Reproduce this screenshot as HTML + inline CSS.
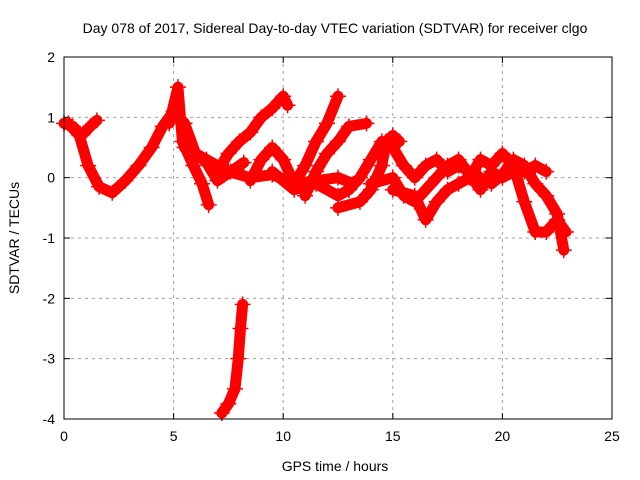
<!DOCTYPE html>
<html><head><meta charset="utf-8"><style>
body{margin:0;background:#fff}
svg{display:block;font-family:"Liberation Sans",sans-serif}
</style></head><body>
<svg id="c" width="640" height="480">
<rect x="0" y="0" width="640" height="480" fill="#fff"/>
<text x="335" y="33" font-size="14" text-anchor="middle">Day 078 of 2017, Sidereal Day-to-day VTEC variation (SDTVAR) for receiver clgo</text>
<text x="335" y="471" font-size="14" text-anchor="middle">GPS time / hours</text>
<text x="19" y="238" font-size="14" text-anchor="middle" transform="rotate(-90 19 238)">SDTVAR / TECUs</text>
<g id="grid"></g><g id="ticks"></g><g id="marks"></g>
<rect x="64" y="57" width="548" height="362" fill="none" stroke="#000" stroke-width="1"/>
</svg>
<script>
const xTicks=[0,5,10,15,20,25];
const yTicks=[2,1,0,-1,-2,-3,-4];
const trackA=[[0,0.9],[0.4,0.85],[0.8,0.7],[1.2,0.85],[1.5,0.95]];
const trackB=[[0.2,0.9],[0.7,0.7],[1.1,0.2],[1.6,-0.15],[2.2,-0.25],[2.8,-0.05],[3.4,0.2],[4,0.5],[4.5,0.85],[5,1.1],[5.5,0.9],[6,0.4],[6.5,0.25],[7,-0.05],[7.6,0.1],[8.2,0.25]];
const trackC=[[4.8,0.9],[5.2,1.5],[5.4,0.6],[5.9,0.2],[6.3,-0.1],[6.6,-0.45]];
const trackK=[[5.5,0.5],[6.5,0.3],[7.5,0.1],[8.5,0],[9.5,0.05],[10.5,-0.1],[11.5,-0.05],[12.5,0],[13.2,-0.1]];
const trackD=[[7,0.1],[7.5,0.4],[8,0.6],[8.5,0.75],[9,1.0],[9.5,1.15],[10,1.35],[10.2,1.2]];
const trackE=[[8.5,-0.05],[9,0.3],[9.5,0.5],[10,0.3],[10.5,-0.1],[11,0.2],[11.5,0.6],[12,0.9],[12.5,1.35]];
const trackF=[[11,-0.3],[11.5,0.1],[12,0.4],[12.5,0.6],[13,0.85],[13.8,0.9]];
const trackL=[[9.5,0.1],[10.5,-0.2],[11.5,-0.1],[12.5,-0.3],[13,-0.2]];
const trackG=[[12.5,-0.5],[13.5,-0.4],[14,-0.2],[14.5,0.2],[14.7,0.6],[15,0.7],[15.3,0.6]];
const trackH=[[13,-0.2],[13.5,0],[14,0.3],[14.5,0.6],[15,0.5],[15.5,0.2],[16,0],[16.5,0.2],[17,0.3],[17.5,0.1],[18,0.2],[19,0],[19.5,-0.1],[20,0.05],[20.5,0.3],[21,0.2],[21.5,-0.1],[22,-0.3],[22.5,-0.6],[22.8,-1.2]];
const trackI=[[15,-0.2],[16,-0.3],[16.5,-0.7],[17,-0.4],[17.5,-0.2],[18,-0.1],[18.5,0],[19,0.3],[19.5,0.2],[20,0.4],[20.5,0.2],[21,-0.4],[21.5,-0.9],[22,-0.9],[22.5,-0.7],[22.9,-0.9]];
const trackJ=[[14,-0.1],[15,0],[15.5,-0.3],[16,-0.4],[17,0],[17.5,0.2],[18,0.3],[19,-0.2],[19.5,0.1],[20,0],[20.5,0.1],[21,0.1],[21.5,0.2],[22,0.1]];
const trackM=[[7.2,-3.9],[7.5,-3.75],[7.8,-3.5],[7.95,-3.0],[8.05,-2.5],[8.15,-2.1]];
const tracks=[trackA,trackB,trackC,trackK,trackD,trackE,trackF,trackL,trackG,trackH,trackI,trackJ,trackM];
const NS="http://www.w3.org/2000/svg";
const X0=64,X1=612,Y0=419,Y1=57;
function xs(t){return X0+(t-0)/(25-0)*(X1-X0);}
function ys(v){return Y0-(v-(-4))/(2-(-4))*(Y0-Y1);}
const grid=document.getElementById('grid'),ticks=document.getElementById('ticks'),marks=document.getElementById('marks');
function mk(tag,attrs,parent){const e=document.createElementNS(NS,tag);for(const k in attrs)e.setAttribute(k,attrs[k]);parent.appendChild(e);return e;}
xTicks.forEach(t=>{
  const x=xs(t);
  if(t>0&&t<25){const g=mk('line',{x1:x,x2:x,y1:Y1,y2:Y0,stroke:'#a0a0a0','stroke-dasharray':'3,4'},grid);
  
  }
  mk('line',{x1:x,x2:x,y1:Y0,y2:Y0-6,stroke:'#000'},ticks);
  mk('line',{x1:x,x2:x,y1:Y1,y2:Y1+6,stroke:'#000'},ticks);
  const l=mk('text',{x:x,y:Y0+22,'font-size':14,'text-anchor':'middle'},ticks);l.textContent=t;
  
  
});
yTicks.forEach(v=>{
  const y=ys(v);
  if(v>-4&&v<2){const g=mk('line',{x1:X0,x2:X1,y1:y,y2:y,stroke:'#a0a0a0','stroke-dasharray':'3,4'},grid);
  
  }
  mk('line',{x1:X0,x2:X0+6,y1:y,y2:y,stroke:'#000'},ticks);
  mk('line',{x1:X1,x2:X1-6,y1:y,y2:y,stroke:'#000'},ticks);
  const l=mk('text',{x:X0-9,y:y+5,'font-size':14,'text-anchor':'end'},ticks);l.textContent=v;
  
  
});
tracks.forEach((tr,i)=>{
  const p=mk('polyline',{points:tr.map(d=>xs(d[0])+','+ys(d[1])).join(' '),fill:'none',stroke:'#ff0000','stroke-width':11,'stroke-linejoin':'round','stroke-linecap':'round'},marks);
  
  
  tr.forEach(d=>{
    const x=xs(d[0]),y=ys(d[1]);
    const m=mk('path',{d:`M${x-8},${y}h16M${x},${y-8}v16`,stroke:'#ff0000','stroke-width':1.5},marks);
    
    
  });
});
</script>
</body></html>
